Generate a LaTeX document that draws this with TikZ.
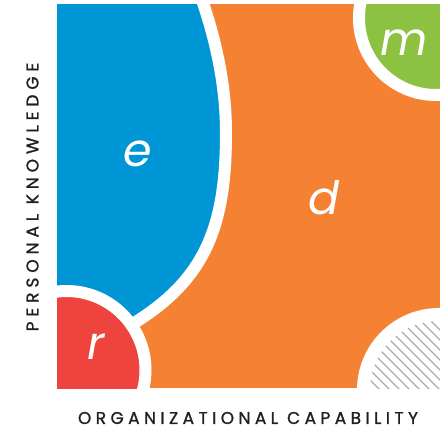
\documentclass[tikz,border=0pt]{standalone}
\usepackage{fontspec}
\setmainfont{Poppins}
\newfontfamily\axisfontx[LetterSpace=26,FakeBold=1.2]{Poppins}
\newfontfamily\axisfonty[LetterSpace=29,FakeBold=1.2]{Poppins}
\newfontfamily\letterfont{Poppins}
\definecolor{cOrange}{HTML}{F58232}
\definecolor{cBlue}{HTML}{0096D6}
\definecolor{cRed}{HTML}{EE443D}
\definecolor{cGreen}{HTML}{8CC142}
\definecolor{cHatch}{HTML}{AAAAAA}
\definecolor{cText}{HTML}{231F20}
\tikzset{
  region/.style={draw=white, line width=12},
  bigletter/.style={text=white, inner sep=0pt, font=\letterfont\itshape\fontsize{46}{46}\selectfont},
  axislabel/.style={text=cText, inner sep=0pt},
  hatchline/.style={draw=cHatch, line width=1.3}
}
\begin{document}
\begin{tikzpicture}[x=1pt,y=-1pt]
\useasboundingbox (0,0) rectangle (440,429);
\begin{scope}
  \clip (57,4) rectangle (440,388);
  \fill[cOrange] (57,4) rectangle (440,388);
  % blue region
  \fill[cBlue, region] (40,-20) -- (195,-20) -- (198.9,-9.4) -- (202.7,2)
     .. controls (217,44.5) and (226,88) .. (226,133)
     .. controls (226,236) and (200.8,288.3) .. (112.8,335.3)
     -- (66,370) -- (40,400) -- cycle;
  % red region
  \fill[cRed, region] (66.5,370) circle (79);
  % green region
  \fill[cGreen, region] (436,18) circle (77);
  % hatched region
  \fill[white] (439,390) circle (82);
  \begin{scope}
    \clip (439,390) circle (69);
    \foreach \c in {-40,-30,...,140} {
      \draw[hatchline] (\c+300,300) -- (\c+400,400);
    }
  \end{scope}
\end{scope}
\node[bigletter] (e) at (138,154) {e};
\node[bigletter] (d) at (324,198) {d};
\node[bigletter] (m) at (404,43) {m};
\node[bigletter] (r) at (96,347) {r};
\node[axislabel, font=\axisfontx\fontsize{17}{17}\selectfont] (xlab) at (248,418) {ORGANIZATIONAL CAPABILITY};
\node[axislabel, rotate=90, font=\axisfonty\fontsize{17}{17}\selectfont] (ylab) at (32.5,197) {PERSONAL KNOWLEDGE};
\end{tikzpicture}
\end{document}
